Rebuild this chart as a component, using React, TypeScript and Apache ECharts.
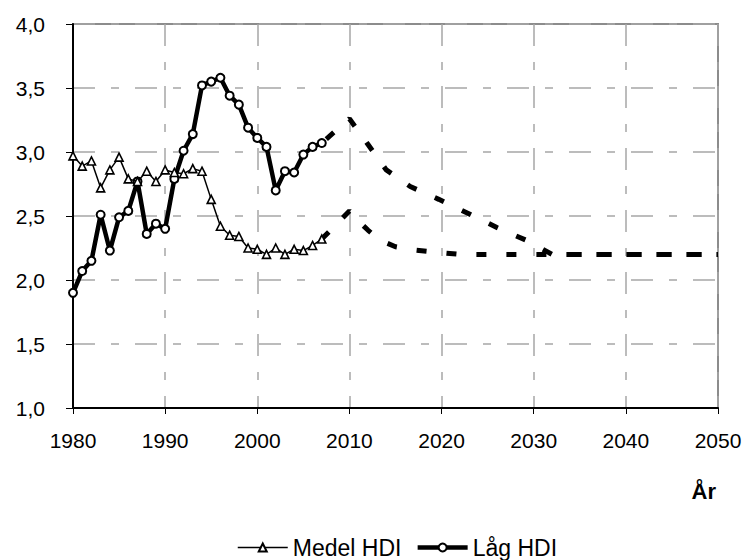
import React, { useEffect, useRef } from "react";
import * as echarts from "echarts";

const years = [
  1980, 1981, 1982, 1983, 1984, 1985, 1986, 1987, 1988, 1989, 1990, 1991, 1992, 1993,
  1994, 1995, 1996, 1997, 1998, 1999, 2000, 2001, 2002, 2003, 2004, 2005, 2006, 2007,
];
const medelValues = [
  2.97, 2.89, 2.93, 2.72, 2.86, 2.96, 2.79, 2.77, 2.85, 2.77, 2.86, 2.84, 2.83, 2.87,
  2.85, 2.63, 2.42, 2.35, 2.34, 2.25, 2.24, 2.2, 2.25, 2.2, 2.24, 2.23, 2.27, 2.32,
];
const lagValues = [
  1.9, 2.07, 2.15, 2.51, 2.23, 2.49, 2.54, 2.77, 2.36, 2.44, 2.4, 2.79, 3.01, 3.14,
  3.52, 3.55, 3.58, 3.44, 3.37, 3.19, 3.11, 3.04, 2.7, 2.85, 2.84, 2.98, 3.04, 3.07,
];
const medelProjYears = [2007, 2010, 2011, 2012, 2013, 2014, 2015, 2017, 2019, 2022, 2050];
const medelProjValues = [2.32, 2.54, 2.46, 2.39, 2.33, 2.29, 2.26, 2.235, 2.22, 2.2, 2.2];
const lagProjYears = [2007, 2010, 2012, 2014, 2016.6, 2019.7, 2022.9, 2026, 2029.2, 2032, 2050];
const lagProjValues = [3.07, 3.26, 3.06, 2.86, 2.73, 2.63, 2.52, 2.41, 2.31, 2.2, 2.2];
const xTicks = { min: 1980, max: 2050, interval: 10 };
const yTicks = { min: 1, max: 4, interval: 0.5 };
const seriesNames = ["Medel HDI", "Låg HDI"];
const axisTitle = "År";

const FONT = "'Liberation Sans', Arial, sans-serif";
const DASH = [10, 20];
const PERIOD = 30;

export default function App() {
  const ref = useRef<HTMLDivElement>(null);
  useEffect(() => {
    if (!ref.current) return;
    const chart = echarts.init(ref.current, undefined, { renderer: "svg" });
    const pair = (xs: number[], ys: number[]) => xs.map((x, i) => [x, ys[i]]);
    chart.setOption({
      animation: false,
      backgroundColor: "#fff",
      textStyle: { fontFamily: FONT },
      grid: {
        left: 73,
        top: 24,
        right: 30,
        bottom: 152,
        show: true,
        borderColor: "#8c8c8c",
        borderWidth: 2,
      },
      xAxis: {
        type: "value",
        min: xTicks.min,
        max: xTicks.max,
        interval: xTicks.interval,
        axisLine: { show: true, onZero: false, lineStyle: { color: "#000", width: 2 } },
        axisTick: { show: true, length: 6, lineStyle: { color: "#000", width: 1 } },
        axisLabel: {
          color: "#000",
          fontSize: 21,
          fontFamily: FONT,
          margin: 22,
          formatter: (v: number) => String(v),
        },
        splitLine: {
          show: true,
          lineStyle: { color: "#a6a6a6", width: 1.5, type: [22, 16, 8, 16] },
        },
      },
      yAxis: {
        type: "value",
        min: yTicks.min,
        max: yTicks.max,
        interval: yTicks.interval,
        axisLine: { show: true, onZero: false, lineStyle: { color: "#000", width: 2 } },
        axisTick: { show: true, length: 7, lineStyle: { color: "#000", width: 1 } },
        axisLabel: {
          color: "#000",
          fontSize: 21,
          fontFamily: FONT,
          margin: 28,
          formatter: (v: number) => v.toFixed(1).replace(".", ","),
        },
        splitLine: {
          show: true,
          lineStyle: { color: "#a6a6a6", width: 1.5, type: [22, 16, 8, 16] },
        },
      },
      legend: {
        data: [
          { name: seriesNames[0], lineStyle: { width: 1.5 } },
          { name: seriesNames[1], lineStyle: { width: 4.5 } },
        ],
        left: 232,
        top: 531,
        itemWidth: 50,
        itemHeight: 10,
        itemGap: 14,
        textStyle: { color: "#000", fontSize: 23, fontFamily: FONT },
      },
      graphic: [
        {
          type: "text",
          right: 32,
          top: 480,
          style: {
            text: axisTitle,
            fontSize: 22,
            fontWeight: "bold",
            fontFamily: FONT,
            fill: "#000",
          },
        },
      ],
      series: [
        {
          id: "medelProj",
          name: "medelProj",
          type: "line",
          data: pair(medelProjYears, medelProjValues),
          showSymbol: false,
          symbol: "none",
          silent: true,
          lineStyle: { color: "#000", width: 5, type: DASH },
          z: 3,
        },
        {
          id: "lagProj",
          name: "lagProj",
          type: "line",
          data: pair(lagProjYears, lagProjValues),
          showSymbol: false,
          symbol: "none",
          silent: true,
          lineStyle: { color: "#000", width: 5, type: DASH },
          z: 3,
        },
        {
          name: seriesNames[1],
          type: "line",
          data: pair(years, lagValues),
          symbol: "circle",
          symbolSize: 8,
          itemStyle: { color: "#fff", borderColor: "#000", borderWidth: 2 },
          lineStyle: { color: "#000", width: 4.5 },
          z: 4,
        },
        {
          name: seriesNames[0],
          type: "line",
          data: pair(years, medelValues),
          symbol: "triangle",
          symbolSize: 8,
          itemStyle: { color: "#fff", borderColor: "#000", borderWidth: 1.6 },
          lineStyle: { color: "#000", width: 1.5 },
          z: 5,
        },
      ],
    });

    // Align dash phases where the two projections overlap (after their meeting year)
    const lengthTo = (xs: number[], ys: number[], untilX: number) => {
      let s = 0;
      for (let i = 1; i < xs.length; i++) {
        if (xs[i - 1] >= untilX) break;
        const x1 = Math.min(xs[i], untilX);
        const t = (x1 - xs[i - 1]) / (xs[i] - xs[i - 1]);
        const y1 = ys[i - 1] + (ys[i] - ys[i - 1]) * t;
        const a = chart.convertToPixel({ gridIndex: 0 }, [xs[i - 1], ys[i - 1]]) as number[];
        const b = chart.convertToPixel({ gridIndex: 0 }, [x1, y1]) as number[];
        s += Math.hypot(b[0] - a[0], b[1] - a[1]);
      }
      return s;
    };
    const meet = lagProjYears[lagProjYears.length - 2];
    const sL = lengthTo(medelProjYears, medelProjValues, meet);
    const sU = lengthTo(lagProjYears, lagProjValues, meet);
    const phaseL = ((sL % PERIOD) + PERIOD) % PERIOD;
    const off = (((phaseL - 5 - sU) % PERIOD) + PERIOD) % PERIOD;
    chart.setOption({
      series: [{ id: "lagProj", lineStyle: { dashOffset: off } }],
    });

    return () => chart.dispose();
  }, []);
  return (
    <div
      ref={ref}
      style={{ position: "fixed", left: 0, top: 0, width: 748, height: 560, background: "#fff" }}
    />
  );
}
